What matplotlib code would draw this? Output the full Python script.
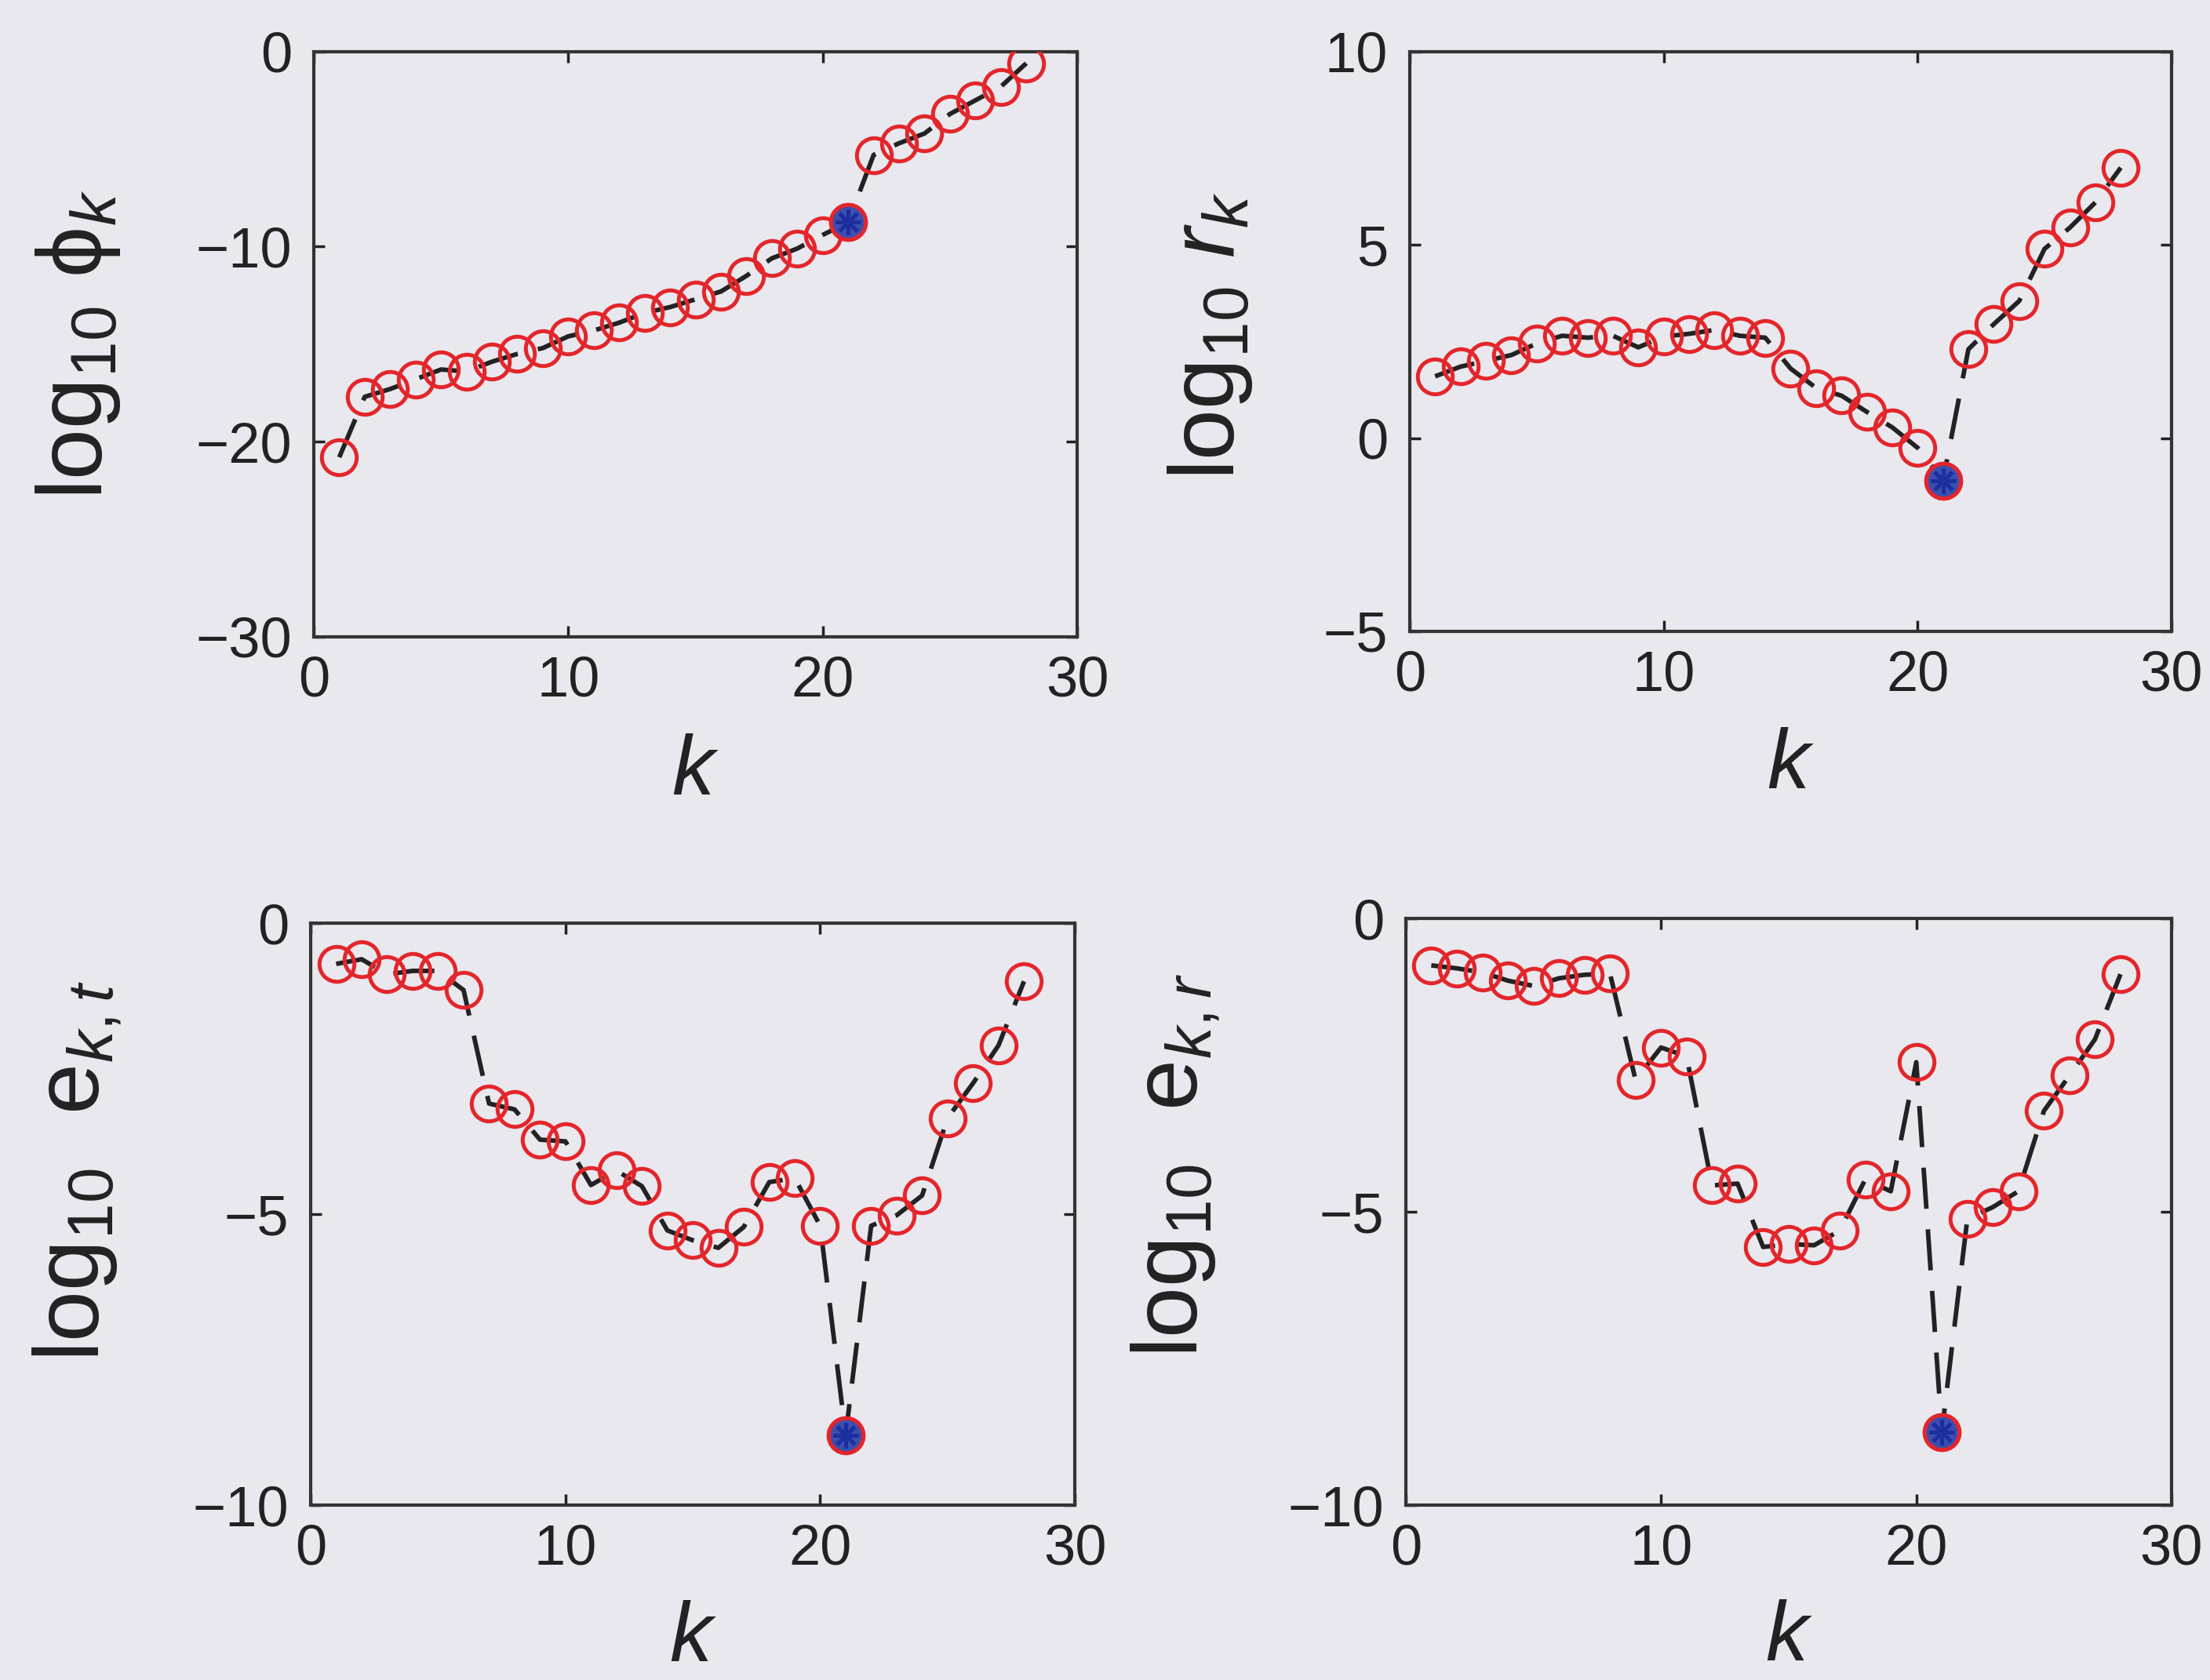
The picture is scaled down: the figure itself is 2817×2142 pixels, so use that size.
import numpy as np
import matplotlib

matplotlib.use("agg")

import matplotlib.pyplot as plt

# iteration index
k = np.arange(1, 29)
k_star = 21

# log10 of the quantities per iteration
log_phi = [-20.8, -17.7, -17.3, -16.8, -16.3, -16.4, -15.9, -15.5, -15.2, -14.6,
           -14.3, -13.9, -13.4, -13.1, -12.7, -12.3, -11.5, -10.6, -10.1, -9.4,
           -8.75, -5.3, -4.7, -4.2, -3.2, -2.5, -1.8, -0.6]
log_r = [1.6, 1.85, 2.0, 2.15, 2.45, 2.65, 2.6, 2.65, 2.35, 2.63,
         2.7, 2.8, 2.65, 2.6, 1.8, 1.3, 1.1, 0.68, 0.28, -0.25,
         -1.1, 2.3, 2.95, 3.55, 4.9, 5.45, 6.1, 7.0]
log_et = [-0.7, -0.62, -0.88, -0.82, -0.82, -1.15, -3.1, -3.2, -3.72, -3.75,
          -4.5, -4.25, -4.52, -5.28, -5.45, -5.58, -5.22, -4.45, -4.38, -5.2,
          -8.8, -5.2, -5.02, -4.68, -3.35, -2.75, -2.1, -1.0]
log_er = [-0.8, -0.85, -0.92, -1.06, -1.15, -1.02, -0.96, -0.94, -2.75, -2.2,
          -2.35, -4.55, -4.52, -5.6, -5.55, -5.57, -5.32, -4.45, -4.65, -2.45,
          -8.75, -5.12, -4.92, -4.65, -3.28, -2.68, -2.06, -0.95]

ylabels = [
    r"$\mathrm{log}_{10}\ \mathrm{\phi}_k$",
    r"$\mathrm{log}_{10}\ r_k$",
    r"$\mathrm{log}_{10}\ \ \mathrm{e}_{k,t}$",
    r"$\mathrm{log}_{10}\ \ \mathrm{e}_{k,r}$",
]
ylims = [(-30, 0), (-5, 10), (-10, 0), (-10, 0)]
yticks = [[-30, -20, -10, 0], [-5, 0, 5, 10], [-10, -5, 0], [-10, -5, 0]]
xticks = [0, 10, 20, 30]

# axes boxes in figure fractions, and where each label sits (axes fractions)
rects = [
    [0.142, 0.621, 0.3454, 0.3483],
    [0.6379, 0.6242, 0.3447, 0.345],
    [0.1406, 0.1041, 0.3458, 0.3464],
    [0.6361, 0.1041, 0.3465, 0.3492],
]
ylabel_xy = [(-0.2775, 0.50), (-0.2307, 0.51), (-0.2762, 0.574), (-0.2715, 0.579)]
xlabel_y = [-0.165, -0.165, -0.163, -0.161]

paper = "#e8e8ee"
ink = "#222222"
red = "#e3262b"

plt.rcParams["font.family"] = ["Liberation Sans", "DejaVu Sans"]
plt.rcParams["mathtext.fontset"] = "custom"
plt.rcParams["mathtext.rm"] = "Liberation Sans"
plt.rcParams["mathtext.it"] = "Liberation Sans:italic"

fig = plt.figure(figsize=(28.17, 21.42), dpi=100, facecolor=paper)

for vals, ylab, ylim, yt, rect, lxy, xly in zip(
    [log_phi, log_r, log_et, log_er], ylabels, ylims, yticks, rects,
    ylabel_xy, xlabel_y
):
    ax = fig.add_axes(rect)
    ax.set_facecolor(paper)
    vals = np.asarray(vals)

    ax.plot(k, vals, color=ink, lw=4.2, dashes=(9, 4.5), zorder=2)
    ax.plot(k, vals, ls="none", marker="o", ms=32, mfc="none",
            mec=red, mew=3.6, zorder=3)
    # highlighted iterate
    i = k_star - 1
    ax.plot(k[i], vals[i], ls="none", marker="o", ms=32, mfc="#3a4fb0",
            mec=red, mew=3.6, zorder=4)
    ax.plot(k[i], vals[i], ls="none", marker=(8, 2, 0), ms=23,
            mec="#1d2f9e", mew=3.5, zorder=5)

    ax.set_xlim(0, 30)
    ax.set_ylim(*ylim)
    ax.set_xticks(xticks)
    ax.set_yticks(yt)
    ax.tick_params(direction="in", length=10, width=2.5, colors=ink,
                   labelsize=52, top=True, right=True)
    ax.tick_params(axis="x", pad=17)
    ax.tick_params(axis="y", pad=20)
    for s in ax.spines.values():
        s.set_linewidth(3)
        s.set_color("#333333")

    ax.set_xlabel(r"$k$", fontsize=78, color=ink)
    ax.xaxis.set_label_coords(0.5, xly)
    ax.set_ylabel(ylab, fontsize=84, color=ink, va="baseline")
    ax.yaxis.set_label_coords(*lxy)

fig.savefig("out.png", dpi=100, facecolor=paper)
